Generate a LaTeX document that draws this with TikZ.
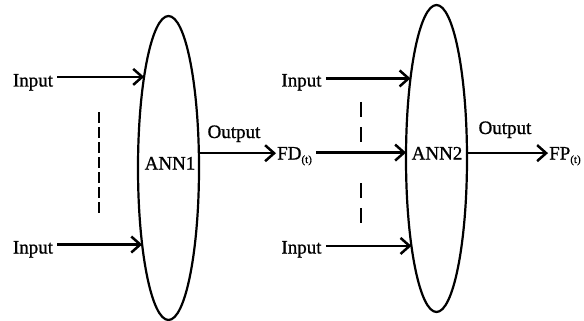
\documentclass[tikz,border=0pt]{standalone}
\usepackage{fontspec}
\setmainfont[FakeBold=0.9]{Liberation Serif}
\usepackage{tikz}
\usetikzlibrary{arrows.meta, positioning, shapes.geometric}
\newcommand{\tsub}{\raisebox{-3.5pt}{\fontsize{11}{11}\selectfont(t)}}

\begin{document}
\begin{tikzpicture}[x=1pt,y=-1pt,
		txt/.style={font=\fontsize{19}{22}\selectfont,inner sep=2pt,anchor=base},
		annbox/.style={draw,ellipse,line width=2.2pt,minimum width=61pt,inner sep=0pt,outer sep=0pt},
		feed/.style={-{Straight Barb[length=9pt,width=16pt]},line width=2.5pt},
		gap/.style={line width=2.2pt}]
			\useasboundingbox (0,0) rectangle (584,321);
			% the two networks
			\node[annbox,minimum height=304pt] (ann1) at (168.5,168) {};
			\node[annbox,minimum height=307pt] (ann2) at (436.5,158.5) {};
			\node[txt] (ann1txt) at (170,169.5) {ANN1};
			\node[txt] (ann2txt) at (437,159.5) {ANN2};
			% inputs of ANN1
			\node[txt] (in1) at (33,86.5) {Input};
			\node[txt] (in2) at (33,253.5) {Input};
			\draw[feed,shorten <=2pt] (ann1.105.8 -| in1.east) -- (ann1.105.8);
			\draw[feed,shorten <=2pt] (ann1.251.7 -| in2.east) -- (ann1.251.7);
			\draw[gap,dash pattern=on 11pt off 4pt] (99,112) -- (99,215);
			% output of ANN1, fed into ANN2
			\node[txt,anchor=base west,inner sep=0pt] (fd) at (277,159.5) {FD\tsub};
			\node[txt] (out1) at (234,138) {Output};
			\draw[feed,shorten >=1pt] (ann1.26.3) -- (ann1.26.3 -| fd.west);
			% inputs of ANN2
			\node[txt] (in3) at (301.5,86.5) {Input};
			\node[txt] (in4) at (301.5,253.5) {Input};
			\draw[feed,shorten <=2pt] (ann2.108.45 -| in3.east) -- (ann2.108.45);
			\draw[feed,shorten <=4pt] (ann2.169.8 -| fd.east) -- (ann2.169.8);
			\draw[feed,shorten <=2pt] (ann2.254.3 -| in4.east) -- (ann2.254.3);
			\draw[gap,dash pattern=on 15pt off 10pt] (361,102) -- (361,143);
			\draw[gap,dash pattern=on 15pt off 10pt] (361,183) -- (361,224);
			% output of ANN2
			\node[txt,anchor=base west,inner sep=0pt] (fp) at (549,159.5) {FP\tsub};
			\node[txt] (out2) at (505,134) {Output};
			\draw[feed,shorten >=1pt] (ann2.10.2) -- (ann2.10.2 -| fp.west);
		\end{tikzpicture}
\end{document}
